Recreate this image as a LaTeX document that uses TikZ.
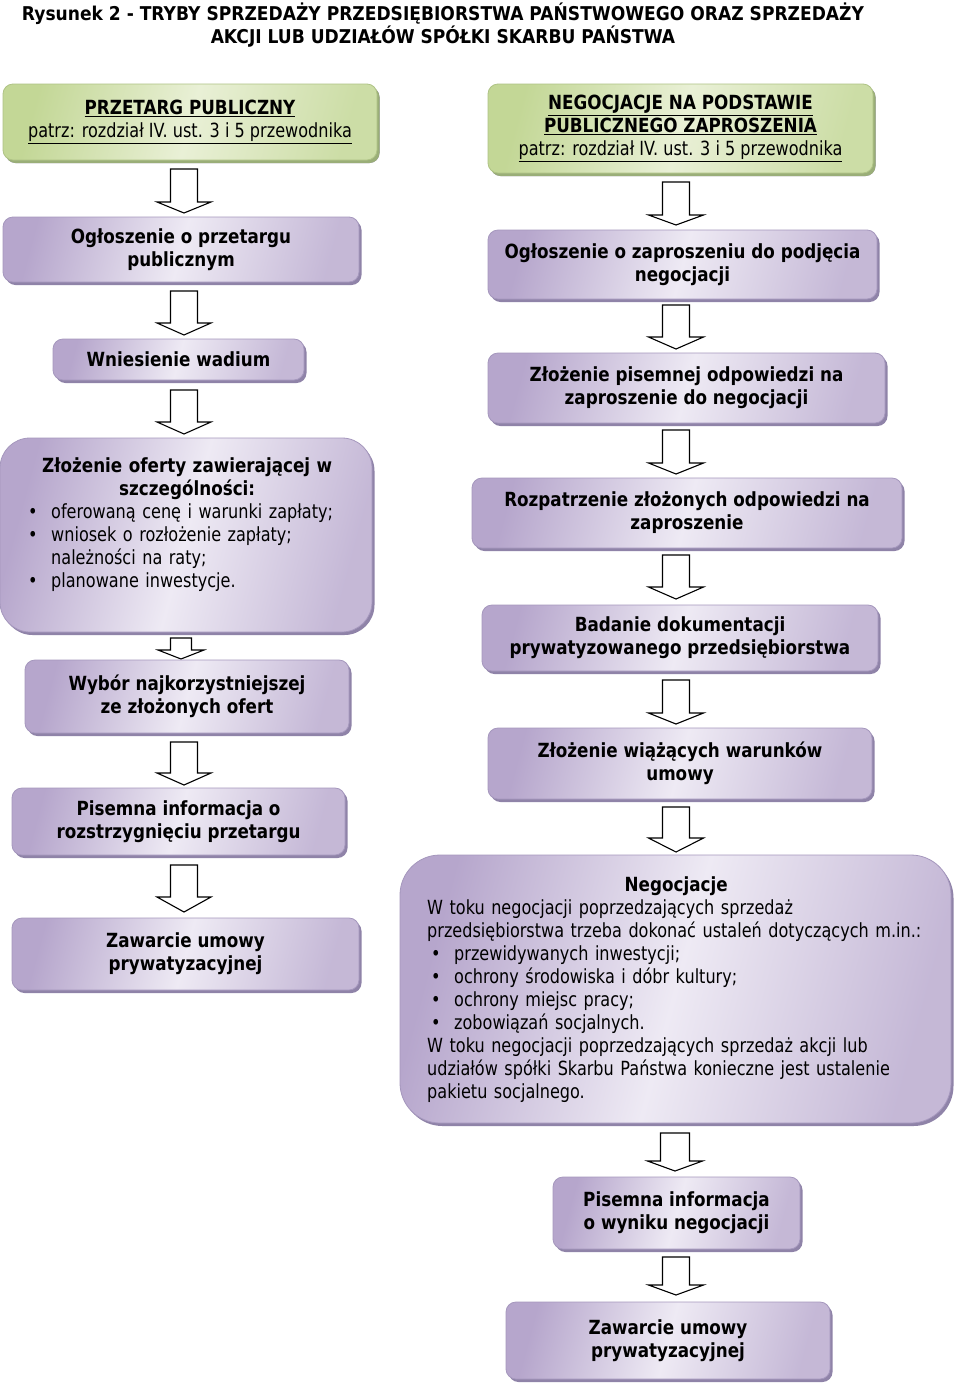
\documentclass[tikz,border=0pt]{standalone}
\usepackage{fontspec}
\setmainfont{DejaVu Sans}[FakeStretch=0.825, BoldFont={DejaVu Sans Bold}, BoldFeatures={FakeStretch=0.86}]
\newfontfamily\titlefont{DejaVu Sans Bold}[FakeStretch=0.9]
\usetikzlibrary{shadows}
\definecolor{boxdark}{HTML}{B6A6CC}
\definecolor{boxlight}{HTML}{EEEAF4}
\definecolor{boxedge}{HTML}{A597BD}
\definecolor{boxshadow}{HTML}{8F83A8}
\definecolor{gdark}{HTML}{C3D796}
\definecolor{glight}{HTML}{E9F0D6}
\definecolor{gedge}{HTML}{AFC385}
\definecolor{gshadow}{HTML}{9AAE78}
\newcommand\fsz{\fontsize{19.5}{23}\selectfont}
\newcommand\bul{\hspace*{4pt}\makebox[23pt][l]{•}}
\newcommand\cont{\hspace*{27pt}}
\tikzset{
  box/.style={rounded corners=10pt, draw=boxedge, line width=0.8pt,
    left color=boxdark, right color=boxdark!80!white, middle color=boxlight,
    shading angle=75,
    drop shadow={shadow xshift=2.5pt, shadow yshift=-3pt, fill=boxshadow, opacity=1},
    align=center, font=\fsz\bfseries, inner sep=0pt},
  gbox/.style={box, draw=gedge, left color=gdark, right color=gdark!85!white,
    middle color=glight, shading angle=75,
    drop shadow={shadow xshift=2.5pt, shadow yshift=-3pt, fill=gshadow, opacity=1}},
  txt/.style={font=\fsz, inner sep=0pt},
  arrowline/.style={draw=black, line width=1.1pt, fill=white, line join=miter},
  pics/barrow/.style n args={4}{code={
    \draw[arrowline] (-#1,0) -- (-#1,#3) -- (-#2,#3) -- (0,#4) -- (#2,#3) -- (#1,#3) -- (#1,0) -- cycle;}}
}
\begin{document}
\begin{tikzpicture}[x=1pt, y=-1pt]
\useasboundingbox (0,0) rectangle (960,1385);
\fill[white] (0,0) rectangle (960,1385);

\node[txt, font=\fontsize{19}{23}\titlefont, align=center] (title) at (443,25.5)
  {Rysunek 2 - TRYBY SPRZEDAŻY PRZEDSIĘBIORSTWA PAŃSTWOWEGO ORAZ SPRZEDAŻY\\AKCJI LUB UDZIAŁÓW SPÓŁKI SKARBU PAŃSTWA};

% left column
\node[gbox, minimum width=374pt, minimum height=76pt] (g1) at (190,122)
  {\underline{PRZETARG PUBLICZNY}\\{\mdseries\underline{patrz: rozdział IV. ust. 3 i 5 przewodnika}}};
\pic (a1) at (184,169) {barrow={13.5}{27}{33}{44}};
\node[box, minimum width=356pt, minimum height=65pt] (l1) at (181,249.5)
  {Ogłoszenie o przetargu\\publicznym};
\pic (a2) at (184,291) {barrow={13.5}{27}{32}{44}};
\node[box, minimum width=251pt, minimum height=41pt] (l2) at (178.5,359.5)
  {Wniesienie wadium};
\pic (a3) at (184,390) {barrow={13.5}{27}{32}{44}};
\node[box, rounded corners=30pt, minimum width=372pt, minimum height=194pt] (l3) at (186,535) {};
\node[txt, anchor=west, text width=326pt, align=left] (t3) at (24,524.5)
  {\makebox[\linewidth]{\bfseries Złożenie oferty zawierającej w}\\
   \makebox[\linewidth]{\bfseries szczególności:}\\
   \bul oferowaną cenę i warunki zapłaty;\\
   \bul wniosek o rozłożenie zapłaty;\\
   \cont należności na raty;\\
   \bul planowane inwestycje.};
\pic (a4) at (181,638) {barrow={10.5}{23}{12}{21}};
\node[box, minimum width=324pt, minimum height=73pt] (l4) at (187,696.5)
  {Wybór najkorzystniejszej\\ze złożonych ofert};
\pic (a5) at (184,742) {barrow={13.5}{27}{31}{43}};
\node[box, minimum width=333pt, minimum height=67pt] (l5) at (178.5,821.5)
  {Pisemna informacja o\\rozstrzygnięciu przetargu};
\pic (a6) at (184,865) {barrow={13.5}{27}{32}{47}};
\node[box, minimum width=347pt, minimum height=72pt] (l6) at (185.5,954)
  {Zawarcie umowy\\prywatyzacyjnej};

% right column
\node[gbox, minimum width=385pt, minimum height=89pt] (g2) at (680.5,128.5)
  {\underline{NEGOCJACJE NA PODSTAWIE}\\\underline{PUBLICZNEGO ZAPROSZENIA}\\{\mdseries\underline{patrz: rozdział IV. ust. 3 i 5 przewodnika}}};
\pic (b1) at (676,182) {barrow={13.5}{27.5}{33}{43}};
\node[box, minimum width=389pt, minimum height=69pt] (r1) at (682.5,264.5)
  {Ogłoszenie o zaproszeniu do podjęcia\\negocjacji};
\pic (b2) at (676,305) {barrow={13.5}{27.5}{32}{44}};
\node[box, minimum width=397pt, minimum height=70pt] (r2) at (686.5,388)
  {Złożenie pisemnej odpowiedzi na\\zaproszenie do negocjacji};
\pic (b3) at (676,430) {barrow={13.5}{27.5}{33}{44}};
\node[box, minimum width=430pt, minimum height=70pt] (r3) at (687,513)
  {Rozpatrzenie złożonych odpowiedzi na\\zaproszenie};
\pic (b4) at (676,555) {barrow={13.5}{27.5}{32}{44}};
\node[box, minimum width=396pt, minimum height=66pt] (r4) at (680,638)
  {Badanie dokumentacji\\prywatyzowanego przedsiębiorstwa};
\pic (b5) at (676,680) {barrow={13.5}{27.5}{33}{44}};
\node[box, minimum width=384pt, minimum height=71pt] (r5) at (680,763.5)
  {Złożenie wiążących warunków\\umowy};
\pic (b6) at (676,807) {barrow={13.5}{27.5}{31}{45}};
\node[box, rounded corners=40pt, minimum width=551pt, minimum height=268pt] (r6) at (675.5,989) {};
\node[txt, anchor=west, text width=510pt, align=left] (t6) at (427,989.5)
  {\makebox[498pt]{\bfseries Negocjacje}\\
   W toku negocjacji poprzedzających sprzedaż\\
   przedsiębiorstwa trzeba dokonać ustaleń dotyczących m.in.:\\
   \bul przewidywanych inwestycji;\\
   \bul ochrony środowiska i dóbr kultury;\\
   \bul ochrony miejsc pracy;\\
   \bul zobowiązań socjalnych.\\
   W toku negocjacji poprzedzających sprzedaż akcji lub\\
   udziałów spółki Skarbu Państwa konieczne jest ustalenie\\
   pakietu socjalnego.};
\pic (b7) at (675,1133) {barrow={14.5}{27.5}{28}{38}};
\node[box, minimum width=247pt, minimum height=72pt] (r7) at (676.5,1213)
  {Pisemna informacja\\o wyniku negocjacji};
\pic (b8) at (676,1257) {barrow={13.5}{27.5}{28}{38}};
\node[box, minimum width=324pt, minimum height=77pt] (r8) at (668,1340.5)
  {Zawarcie umowy\\prywatyzacyjnej};
\end{tikzpicture}
\end{document}
